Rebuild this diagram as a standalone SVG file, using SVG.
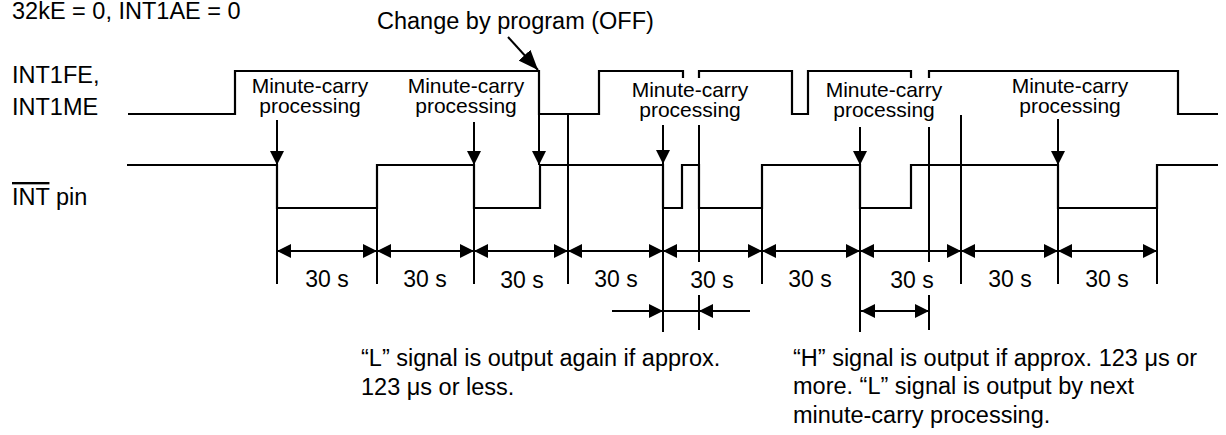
<svg xmlns="http://www.w3.org/2000/svg" width="1226" height="435" viewBox="0 0 1226 435">
<defs>
<style>
.t{font-family:"Liberation Sans",Arial,sans-serif;font-size:23.5px;fill:#000}
.lb{font-family:"Liberation Sans",Arial,sans-serif;font-size:21px;fill:#000;text-anchor:middle}
.d{font-family:"Liberation Sans",Arial,sans-serif;font-size:23px;fill:#000;text-anchor:middle}
.s{fill:none;stroke:#000;stroke-width:2.2}
.c{fill:none;stroke:#000;stroke-width:2}
</style>
<marker id="ah" viewBox="0 0 14 14" refX="14" refY="7" markerWidth="14" markerHeight="14" markerUnits="userSpaceOnUse" orient="auto-start-reverse"><path d="M0,0 L14,7 L0,14 z" fill="#000"/></marker>
<marker id="ahL" viewBox="0 0 20 16" refX="20" refY="8" markerWidth="20" markerHeight="16" markerUnits="userSpaceOnUse" orient="auto"><path d="M0,0 L20,8 L0,16 z" fill="#000"/></marker>
</defs>
<rect width="1226" height="435" fill="#fff"/>

<g id="condition"><text class="t" x="12" y="19">32kE = 0, INT1AE = 0</text></g>
<g id="signal-names">
<text class="t" x="12" y="83">INT1FE,</text>
<text class="t" x="12" y="115">INT1ME</text>
<text class="t" x="12" y="205"><tspan text-decoration="overline">INT</tspan> pin</text>
</g>
<g id="note-change"><text class="t" x="377" y="29">Change by program (OFF)</text></g>

<g id="labels">
<g id="mc1"><text class="lb" x="310" y="93">Minute-carry<tspan x="310" dy="20">processing</tspan></text></g>
<g id="mc2"><text class="lb" x="466" y="93">Minute-carry<tspan x="466" dy="20">processing</tspan></text></g>
<g id="mc3"><text class="lb" x="690" y="97">Minute-carry<tspan x="690" dy="20">processing</tspan></text></g>
<g id="mc4"><text class="lb" x="884" y="97">Minute-carry<tspan x="884" dy="20">processing</tspan></text></g>
<g id="mc5"><text class="lb" x="1070" y="93">Minute-carry<tspan x="1070" dy="20">processing</tspan></text></g>
</g>

<g id="signals">
<path id="sig-int1fe" class="s" d="M128,114 H235 V71 H539 V114 H599 V71 H683 V78 M699,78 V71 H792 V114 H808 V71 H911 V78 M929,78 V71 H1178 V114 H1218"/>
<path id="sig-int" class="s" d="M127,165 H277 V208 H377 V165 H474 V208 H540 V165 H663 V208 H682 V165 H699 V208 H762 V165 H860 V208 H911 V165 H1058 V208 H1157 V165 H1218"/>
</g>

<g id="connectors">
<path class="c" d="M277,165 V284 M377,165 V284 M474,165 V284 M568,114 V284 M663,165 V332 M699,125 V262 M699,295 V330 M762,165 V284 M860,165 V332 M929,127 V262 M929,295 V330 M961,115 V284 M1058,165 V284 M1157,165 V284"/>
<line class="c" x1="277" y1="120" x2="277" y2="165" marker-end="url(#ah)"/>
<line class="c" x1="474" y1="122" x2="474" y2="165" marker-end="url(#ah)"/>
<line class="c" x1="539" y1="114" x2="539" y2="165" marker-end="url(#ah)"/>
<line class="c" x1="663" y1="125" x2="663" y2="164" marker-end="url(#ah)"/>
<line class="c" x1="860" y1="127" x2="860" y2="165" marker-end="url(#ah)"/>
<line class="c" x1="1058" y1="119" x2="1058" y2="165" marker-end="url(#ah)"/>
<line class="c" x1="508" y1="37" x2="538" y2="70" marker-end="url(#ahL)"/>
<line class="c" x1="277" y1="251" x2="377" y2="251" marker-start="url(#ah)" marker-end="url(#ah)"/>
<line class="c" x1="377" y1="251" x2="474" y2="251" marker-start="url(#ah)" marker-end="url(#ah)"/>
<line class="c" x1="474" y1="251" x2="568" y2="251" marker-start="url(#ah)" marker-end="url(#ah)"/>
<line class="c" x1="568" y1="251" x2="663" y2="251" marker-start="url(#ah)" marker-end="url(#ah)"/>
<line class="c" x1="663" y1="251" x2="762" y2="251" marker-start="url(#ah)" marker-end="url(#ah)"/>
<line class="c" x1="762" y1="251" x2="860" y2="251" marker-start="url(#ah)" marker-end="url(#ah)"/>
<line class="c" x1="860" y1="251" x2="961" y2="251" marker-start="url(#ah)" marker-end="url(#ah)"/>
<line class="c" x1="961" y1="251" x2="1058" y2="251" marker-start="url(#ah)" marker-end="url(#ah)"/>
<line class="c" x1="1058" y1="251" x2="1157" y2="251" marker-start="url(#ah)" marker-end="url(#ah)"/>
<line class="c" x1="612" y1="311" x2="663" y2="311" marker-end="url(#ah)"/>
<line class="c" x1="663" y1="311" x2="699" y2="311"/>
<line class="c" x1="750" y1="311" x2="699" y2="311" marker-end="url(#ah)"/>
<line class="c" x1="861" y1="311" x2="929" y2="311" marker-start="url(#ah)" marker-end="url(#ah)"/>
</g>

<g id="durations">
<text class="d" x="327" y="287">30 s</text>
<text class="d" x="425" y="287">30 s</text>
<text class="d" x="522" y="288">30 s</text>
<text class="d" x="616" y="287">30 s</text>
<text class="d" x="712" y="288">30 s</text>
<text class="d" x="810" y="287">30 s</text>
<text class="d" x="912" y="288">30 s</text>
<text class="d" x="1010" y="287">30 s</text>
<text class="d" x="1107" y="287">30 s</text>
</g>

<g id="note-l">
<text class="t" x="361" y="366">“L” signal is output again if approx.</text>
<text class="t" x="361" y="395">123 μs or less.</text>
</g>
<g id="note-h">
<text class="t" x="793" y="366">“H” signal is output if approx. 123 μs or</text>
<text class="t" x="793" y="394">more. “L” signal is output by next</text>
<text class="t" x="793" y="423">minute-carry processing.</text>
</g>
</svg>
